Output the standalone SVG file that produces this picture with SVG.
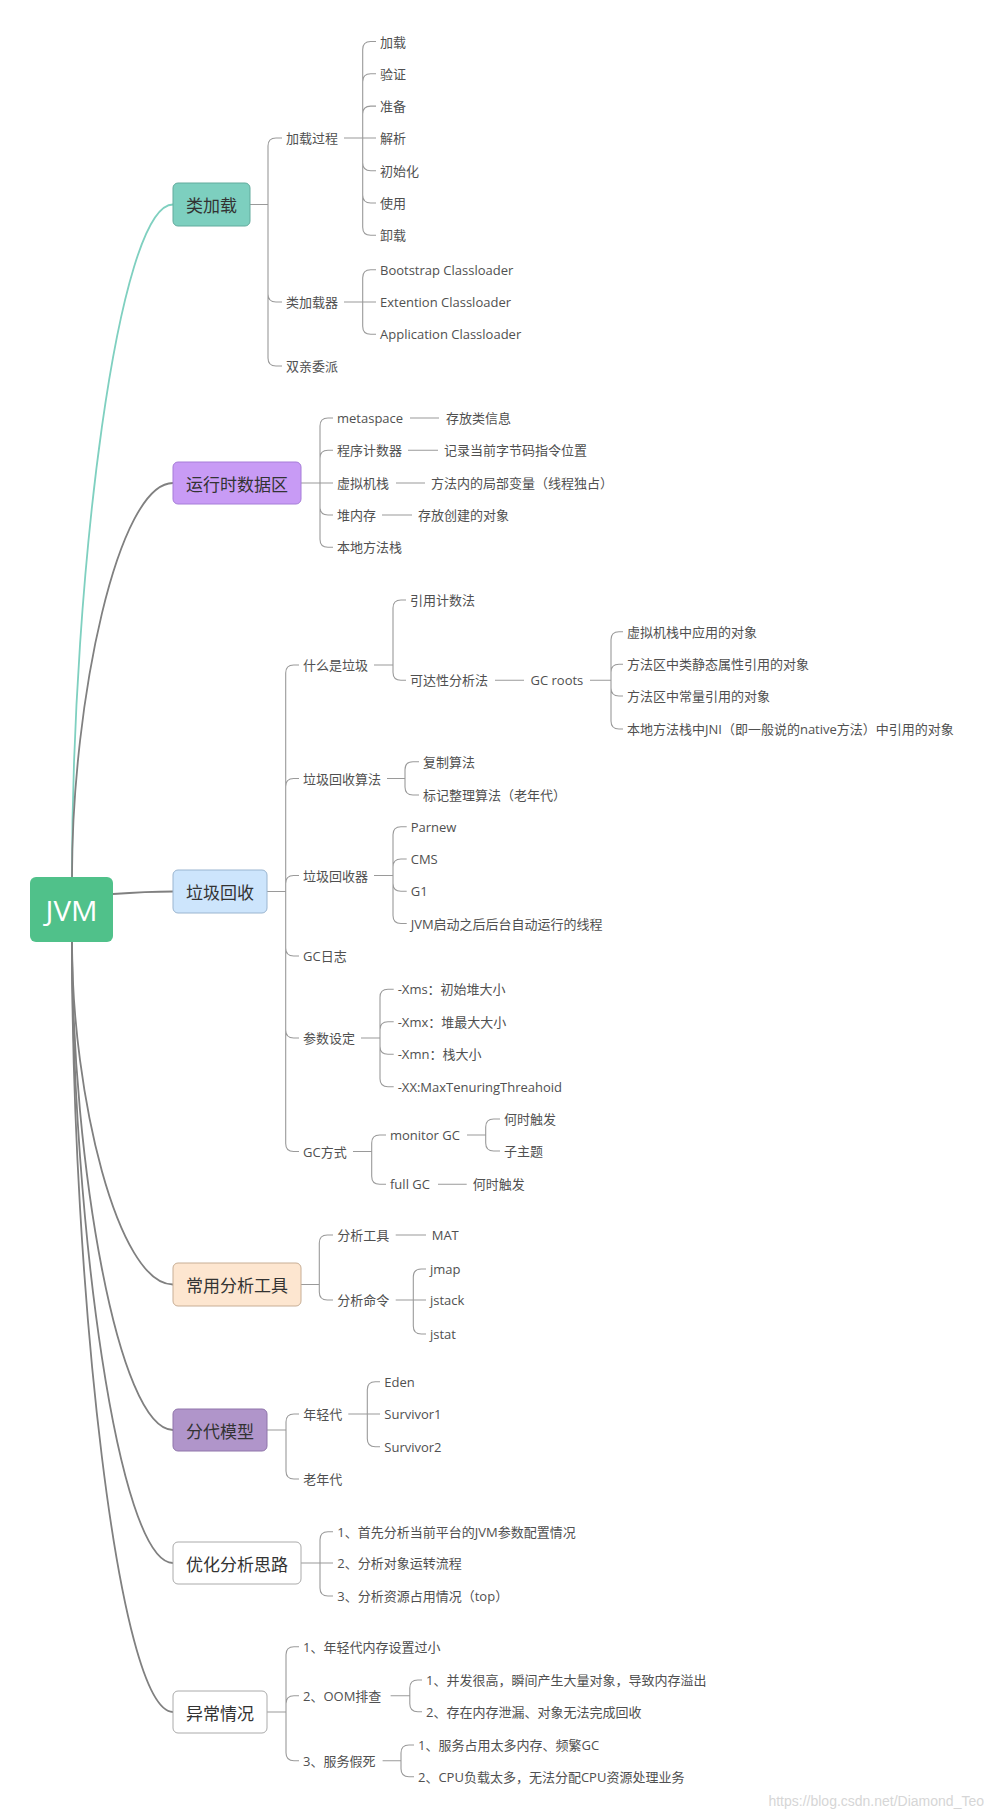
<svg xmlns="http://www.w3.org/2000/svg" width="993" height="1820" viewBox="0 0 993 1820">
<style>
.t{font-family:"Open Sans","Noto Sans CJK SC",sans-serif;font-size:13px;fill:#505050;dominant-baseline:central}
.bt{font-family:"Noto Sans CJK SC",sans-serif;font-size:17px;fill:#333;dominant-baseline:central;text-anchor:middle}
.br{fill:none;stroke:#9a9a9a;stroke-width:1.1}
.mn{fill:none;stroke:#808080;stroke-width:1.8}
.bx{stroke-width:1}
</style>
<rect width="993" height="1820" fill="#fff"/>
<g id="connectors">
<path class="mn" d="M72,877 C72,574 118,204.5 173,204.5" style="stroke:#7fd0c0"/>
<path class="mn" d="M72,877 C72,700 118,483 173,483"/>
<path class="mn" d="M113,894 C140,892 150,891.5 173,891.5"/>
<path class="mn" d="M72,942 C72,1096 118,1284.5 173,1284.5"/>
<path class="mn" d="M72,942 C72,1162 118,1430 173,1430"/>
<path class="mn" d="M72,942 C72,1221 118,1563 173,1563"/>
<path class="mn" d="M72,942 C72,1288 118,1712 173,1712"/>
<!-- 类加载 -->
<path class="br" d="M250,204.5 H268 M268,204.5 V146 Q268,138 276,138 H282 M268,204.5 V294 Q268,302 276,302 H282 M268,204.5 V358 Q268,366 276,366 H282"/>
<path class="br" d="M344,138 H362.7 M362.7,138 V49.5 Q362.7,41.5 370.7,41.5 H376 M362.7,138 V81.8 Q362.7,73.8 370.7,73.8 H376 M362.7,138 V114.1 Q362.7,106.1 370.7,106.1 H376 M362.7,138 H376 M362.7,138 V162.7 Q362.7,170.7 370.7,170.7 H376 M362.7,138 V195 Q362.7,203 370.7,203 H376 M362.7,138 V227.3 Q362.7,235.3 370.7,235.3 H376"/>
<path class="br" d="M344,302 H362.7 M362.7,302 V277.7 Q362.7,269.7 370.7,269.7 H376 M362.7,302 H376 M362.7,302 V326.3 Q362.7,334.3 370.7,334.3 H376"/>
<!-- 运行时数据区 -->
<path class="br" d="M301,483 H320 M320,483 V426 Q320,418 328,418 H333 M320,483 V458.3 Q320,450.3 328,450.3 H333 M320,483 H333 M320,483 V507 Q320,515 328,515 H333 M320,483 V539.3 Q320,547.3 328,547.3 H333"/>
<path class="br" d="M410,418 H439 M408,450.3 H438 M396,483 H425 M382,515 H412"/>
<!-- 垃圾回收 -->
<path class="br" d="M267,891.5 H285.7 M285.7,891.5 V673 Q285.7,665 293.7,665 H299 M285.7,891.5 V786.5 Q285.7,778.5 293.7,778.5 H299 M285.7,891.5 V883.5 Q285.7,875.5 293.7,875.5 H299 M285.7,891.5 V948 Q285.7,956 293.7,956 H299 M285.7,891.5 V1030 Q285.7,1038 293.7,1038 H299 M285.7,891.5 V1143.5 Q285.7,1151.5 293.7,1151.5 H299"/>
<path class="br" d="M374,665 H393 M393,665 V608 Q393,600 401,600 H406 M393,665 V672.3 Q393,680.3 401,680.3 H406"/>
<path class="br" d="M495,680.3 H524 M590,680.3 H611 M611,680.3 V639.7 Q611,631.7 619,631.7 H623 M611,680.3 V672.3 Q611,664.3 619,664.3 H623 M611,680.3 V688 Q611,696 619,696 H623 M611,680.3 V721 Q611,729 619,729 H623"/>
<path class="br" d="M387,778.5 H405 M405,778.5 V769.7 Q405,761.7 413,761.7 H419 M405,778.5 V787 Q405,795 413,795 H419"/>
<path class="br" d="M374,875.5 H393 M393,875.5 V834.7 Q393,826.7 401,826.7 H406.7 M393,875.5 V867 Q393,859 401,859 H406.7 M393,875.5 V883.3 Q393,891.3 401,891.3 H406.7 M393,875.5 V915.5 Q393,923.5 401,923.5 H406.7"/>
<path class="br" d="M361,1038 H380 M380,1038 V997.3 Q380,989.3 388,989.3 H393.7 M380,1038 V1029.7 Q380,1021.7 388,1021.7 H393.7 M380,1038 V1046.3 Q380,1054.3 388,1054.3 H393.7 M380,1038 V1078.7 Q380,1086.7 388,1086.7 H393.7"/>
<path class="br" d="M353,1151.5 H371.7 M371.7,1151.5 V1143 Q371.7,1135 379.7,1135 H386 M371.7,1151.5 V1176.3 Q371.7,1184.3 379.7,1184.3 H386"/>
<path class="br" d="M467,1135 H485.7 M485.7,1135 V1127 Q485.7,1119 493.7,1119 H500 M485.7,1135 V1143 Q485.7,1151 493.7,1151 H500 M438,1184.3 H466.7"/>
<!-- 常用分析工具 -->
<path class="br" d="M301,1284.5 H319.3 M319.3,1284.5 V1243 Q319.3,1235 327.3,1235 H333 M319.3,1284.5 V1292 Q319.3,1300 327.3,1300 H333"/>
<path class="br" d="M395.7,1235 H426 M395.7,1300 H413.3 M413.3,1300 V1277 Q413.3,1269 421.3,1269 H426 M413.3,1300 H426 M413.3,1300 V1326 Q413.3,1334 421.3,1334 H426"/>
<!-- 分代模型 -->
<path class="br" d="M267,1430 H286 M286,1430 V1422 Q286,1414 294,1414 H299 M286,1430 V1471 Q286,1479 294,1479 H299"/>
<path class="br" d="M348.3,1414 H367.3 M367.3,1414 V1389.7 Q367.3,1381.7 375.3,1381.7 H380 M367.3,1414 H380 M367.3,1414 V1438.7 Q367.3,1446.7 375.3,1446.7 H380"/>
<!-- 优化分析思路 -->
<path class="br" d="M301,1563 H320 M320,1563 V1539.7 Q320,1531.7 328,1531.7 H333 M320,1563 H333 M320,1563 V1588 Q320,1596 328,1596 H333"/>
<!-- 异常情况 -->
<path class="br" d="M267,1712 H286 M286,1712 V1654.7 Q286,1646.7 294,1646.7 H299 M286,1712 V1703.7 Q286,1695.7 294,1695.7 H299 M286,1712 V1752.7 Q286,1760.7 294,1760.7 H299"/>
<path class="br" d="M390.6,1695.7 H409.8 M409.8,1695.7 V1688 Q409.8,1680 417.8,1680 H422 M409.8,1695.7 V1703.7 Q409.8,1711.7 417.8,1711.7 H422"/>
<path class="br" d="M382.6,1760.7 H401 M401,1760.7 V1753 Q401,1745 409,1745 H414 M401,1760.7 V1768.7 Q401,1776.7 409,1776.7 H414"/>
</g>

<g id="n-jvm"><rect x="30" y="877" width="83" height="65" rx="6" fill="#50c18a"/><text x="71.5" y="910" textLength="52" lengthAdjust="spacingAndGlyphs" style="font-family:'Open Sans','Liberation Sans',sans-serif;font-size:28px;fill:#fff;dominant-baseline:central;text-anchor:middle">JVM</text></g>

<g id="n-leijiazai"><rect class="bx" x="173" y="183" width="77" height="43" rx="5" fill="#7dcfbf" stroke="#62ab9d"/><text class="bt" x="211.5" y="204.5">类加载</text></g>
<g id="n-jzgc"><text class="t" x="286" y="138">加载过程</text></g>
<g id="n-jz1"><text class="t" x="380" y="41.5">加载</text></g>
<g id="n-jz2"><text class="t" x="380" y="73.8">验证</text></g>
<g id="n-jz3"><text class="t" x="380" y="106.1">准备</text></g>
<g id="n-jz4"><text class="t" x="380" y="138">解析</text></g>
<g id="n-jz5"><text class="t" x="380" y="170.7">初始化</text></g>
<g id="n-jz6"><text class="t" x="380" y="203">使用</text></g>
<g id="n-jz7"><text class="t" x="380" y="235.3">卸载</text></g>
<g id="n-ljzq"><text class="t" x="286" y="302">类加载器</text></g>
<g id="n-cl1"><text class="t" x="380" y="269.7">Bootstrap Classloader</text></g>
<g id="n-cl2"><text class="t" x="380" y="302">Extention Classloader</text></g>
<g id="n-cl3"><text class="t" x="380" y="334.3">Application Classloader</text></g>
<g id="n-sqwp"><text class="t" x="286" y="366">双亲委派</text></g>

<g id="n-yxs"><rect class="bx" x="173" y="462" width="128" height="42" rx="5" fill="#c89bf5" stroke="#a67dd8"/><text class="bt" x="237" y="483">运行时数据区</text></g>
<g id="n-meta"><text class="t" x="337" y="418">metaspace</text></g>
<g id="n-meta2"><text class="t" x="446" y="418">存放类信息</text></g>
<g id="n-pc"><text class="t" x="337" y="450.3">程序计数器</text></g>
<g id="n-pc2"><text class="t" x="444" y="450.3">记录当前字节码指令位置</text></g>
<g id="n-vms"><text class="t" x="337" y="483">虚拟机栈</text></g>
<g id="n-vms2"><text class="t" x="431" y="483">方法内的局部变量（线程独占）</text></g>
<g id="n-heap"><text class="t" x="337" y="515">堆内存</text></g>
<g id="n-heap2"><text class="t" x="418" y="515">存放创建的对象</text></g>
<g id="n-native"><text class="t" x="337" y="547.3">本地方法栈</text></g>

<g id="n-gc"><rect class="bx" x="173" y="870" width="94" height="43" rx="5" fill="#cde5fc" stroke="#9ab5d0"/><text class="bt" x="220" y="891.5">垃圾回收</text></g>
<g id="n-what"><text class="t" x="303" y="665">什么是垃圾</text></g>
<g id="n-refcnt"><text class="t" x="410" y="600">引用计数法</text></g>
<g id="n-reach"><text class="t" x="410" y="680.3">可达性分析法</text></g>
<g id="n-gcroots"><text class="t" x="530.5" y="680.3">GC roots</text></g>
<g id="n-r1"><text class="t" x="627" y="631.7">虚拟机栈中应用的对象</text></g>
<g id="n-r2"><text class="t" x="627" y="664.3">方法区中类静态属性引用的对象</text></g>
<g id="n-r3"><text class="t" x="627" y="696">方法区中常量引用的对象</text></g>
<g id="n-r4"><text class="t" x="627" y="729">本地方法栈中JNI（即一般说的native方法）中引用的对象</text></g>
<g id="n-alg"><text class="t" x="303" y="778.5">垃圾回收算法</text></g>
<g id="n-alg1"><text class="t" x="423" y="761.7">复制算法</text></g>
<g id="n-alg2"><text class="t" x="423" y="795">标记整理算法（老年代）</text></g>
<g id="n-col"><text class="t" x="303" y="875.5">垃圾回收器</text></g>
<g id="n-col1"><text class="t" x="410.7" y="826.7">Parnew</text></g>
<g id="n-col2"><text class="t" x="410.7" y="859">CMS</text></g>
<g id="n-col3"><text class="t" x="410.7" y="891.3">G1</text></g>
<g id="n-col4"><text class="t" x="410.7" y="923.5">JVM启动之后后台自动运行的线程</text></g>
<g id="n-gclog"><text class="t" x="303" y="956">GC日志</text></g>
<g id="n-param"><text class="t" x="303" y="1038">参数设定</text></g>
<g id="n-p1"><text class="t" x="397.7" y="989.3">-Xms：初始堆大小</text></g>
<g id="n-p2"><text class="t" x="397.7" y="1021.7">-Xmx：堆最大大小</text></g>
<g id="n-p3"><text class="t" x="397.7" y="1054.3">-Xmn：栈大小</text></g>
<g id="n-p4"><text class="t" x="397.7" y="1086.7">-XX:MaxTenuringThreahoid</text></g>
<g id="n-gcway"><text class="t" x="303" y="1151.5">GC方式</text></g>
<g id="n-mgc"><text class="t" x="390" y="1135">monitor GC</text></g>
<g id="n-mgc1"><text class="t" x="504" y="1119">何时触发</text></g>
<g id="n-mgc2"><text class="t" x="504" y="1151">子主题</text></g>
<g id="n-fgc"><text class="t" x="390" y="1184.3">full GC</text></g>
<g id="n-fgc1"><text class="t" x="472.7" y="1184.3">何时触发</text></g>

<g id="n-tools"><rect class="bx" x="173" y="1263" width="128" height="43" rx="5" fill="#fde6d0" stroke="#c8ae95"/><text class="bt" x="237" y="1284.5">常用分析工具</text></g>
<g id="n-tool"><text class="t" x="337.3" y="1235">分析工具</text></g>
<g id="n-mat"><text class="t" x="431.7" y="1235">MAT</text></g>
<g id="n-cmd"><text class="t" x="337.3" y="1300">分析命令</text></g>
<g id="n-jmap"><text class="t" x="430" y="1269">jmap</text></g>
<g id="n-jstack"><text class="t" x="430" y="1300">jstack</text></g>
<g id="n-jstat"><text class="t" x="430" y="1334">jstat</text></g>

<g id="n-gen"><rect class="bx" x="173" y="1409" width="94" height="42" rx="5" fill="#b095ca" stroke="#8f75aa"/><text class="bt" x="220" y="1430">分代模型</text></g>
<g id="n-young"><text class="t" x="303.3" y="1414">年轻代</text></g>
<g id="n-eden"><text class="t" x="384.3" y="1381.7">Eden</text></g>
<g id="n-s1"><text class="t" x="384.3" y="1414">Survivor1</text></g>
<g id="n-s2"><text class="t" x="384.3" y="1446.7">Survivor2</text></g>
<g id="n-old"><text class="t" x="303.3" y="1479">老年代</text></g>

<g id="n-opt"><rect class="bx" x="173" y="1542" width="128" height="42" rx="5" fill="#fff" stroke="#aaa"/><text class="bt" x="237" y="1563">优化分析思路</text></g>
<g id="n-o1"><text class="t" x="337.3" y="1531.7">1、首先分析当前平台的JVM参数配置情况</text></g>
<g id="n-o2"><text class="t" x="337.3" y="1563">2、分析对象运转流程</text></g>
<g id="n-o3"><text class="t" x="337.3" y="1596">3、分析资源占用情况（top）</text></g>

<g id="n-exc"><rect class="bx" x="173" y="1691" width="94" height="42" rx="5" fill="#fff" stroke="#aaa"/><text class="bt" x="220" y="1712">异常情况</text></g>
<g id="n-e1"><text class="t" x="303" y="1646.7">1、年轻代内存设置过小</text></g>
<g id="n-e2"><text class="t" x="303" y="1695.7">2、OOM排查</text></g>
<g id="n-e21"><text class="t" x="426" y="1680">1、并发很高，瞬间产生大量对象，导致内存溢出</text></g>
<g id="n-e22"><text class="t" x="426" y="1711.7">2、存在内存泄漏、对象无法完成回收</text></g>
<g id="n-e3"><text class="t" x="303" y="1760.7">3、服务假死</text></g>
<g id="n-e31"><text class="t" x="418" y="1745">1、服务占用太多内存、频繁GC</text></g>
<g id="n-e32"><text class="t" x="418" y="1776.7">2、CPU负载太多，无法分配CPU资源处理业务</text></g>

<text x="984" y="1801" style="font-family:'Liberation Sans',sans-serif;font-size:14px;fill:#d6d6d6;text-anchor:end;dominant-baseline:central">https://blog.csdn.net/Diamond_Teo</text>
</svg>
